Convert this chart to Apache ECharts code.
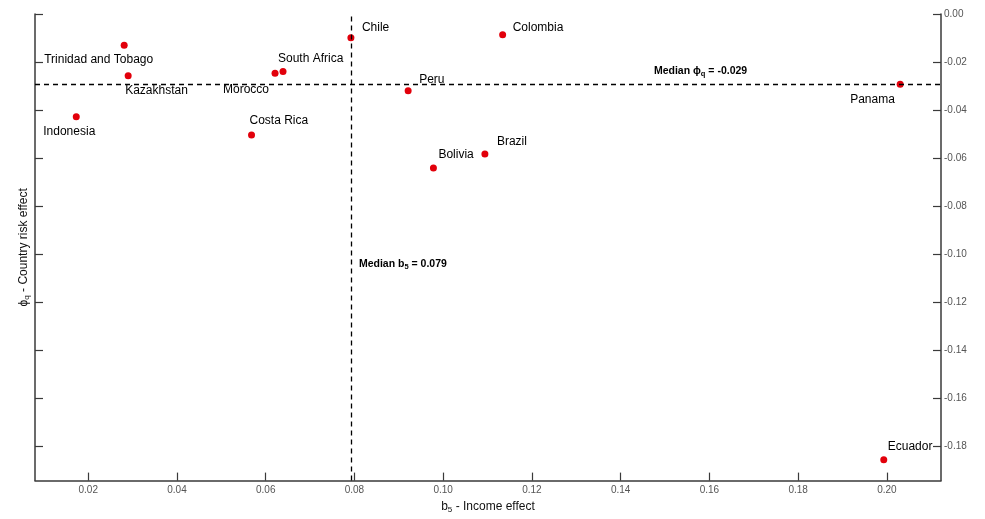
<!DOCTYPE html>
<html>
<head>
<meta charset="utf-8">
<script src="https://cdn.jsdelivr.net/npm/echarts@6.0.0/dist/echarts.min.js"></script>
<style>
  html, body { margin: 0; padding: 0; background: #fff; }
  #chart { width: 985px; height: 519px; }
</style>
</head>
<body>
<div id="chart"></div>
<script>
// values
const countries = ['Trinidad and Tobago', 'Kazakhstan', 'Indonesia', 'Morocco', 'South Africa', 'Chile',
  'Costa Rica', 'Peru', 'Bolivia', 'Brazil', 'Colombia', 'Panama', 'Ecuador'];
const b5 = [0.0281, 0.0290, 0.0173, 0.0621, 0.0639, 0.0792, 0.0568, 0.0921, 0.0978, 0.1094, 0.1134, 0.2030, 0.1993];
const phiQ = [-0.0130, -0.0257, -0.0428, -0.0247, -0.0240, -0.0099, -0.0504, -0.0320, -0.0642, -0.0584, -0.0087, -0.0293, -0.1858];
const medianB5 = 0.0792;
const medianPhiQ = -0.0292;
const xTicks = [0.02, 0.04, 0.06, 0.08, 0.10, 0.12, 0.14, 0.16, 0.18, 0.20];
const yTicks = [0, -0.02, -0.04, -0.06, -0.08, -0.10, -0.12, -0.14, -0.16, -0.18];

const xMin = 0.008, xMax = 0.2122;
const yMin = -0.1945, yMax = 0;

// where each country name sits relative to its dot (left edge, vertical middle)
const labelOffsets = {
  'Trinidad and Tobago': [-80, 15], 'Kazakhstan': [-3, 15], 'Indonesia': [-33, 15],
  'Morocco': [-52, 16], 'South Africa': [-5, -13], 'Chile': [11, -10], 'Costa Rica': [-2, -14],
  'Peru': [11, -11], 'Bolivia': [5, -13], 'Brazil': [12, -12], 'Colombia': [10, -7],
  'Panama': [-50, 15], 'Ecuador': [4, -13]
};

const font = 'Liberation Sans, Arial, sans-serif';
const axisColor = '#3a3a3a';
const subRich = {
  t: { fontFamily: font, fontSize: 12, color: '#111', lineHeight: 15 },
  s: { fontFamily: font, fontSize: 8, color: '#111', verticalAlign: 'bottom', lineHeight: 9 }
};
const boldRich = {
  t: { fontFamily: font, fontSize: 10.5, fontWeight: 'bold', color: '#000', lineHeight: 14 },
  s: { fontFamily: font, fontSize: 7.5, fontWeight: 'bold', color: '#000', verticalAlign: 'bottom', lineHeight: 8 }
};

const points = countries.map((name, i) => ({
  name: name,
  value: [b5[i], phiQ[i]],
  label: { offset: labelOffsets[name] }
}));

const chart = echarts.init(document.getElementById('chart'));
chart.setOption({
  animation: false,
  backgroundColor: '#fff',
  grid: { left: 35, right: 44, top: 14, bottom: 35 },
  xAxis: {
    type: 'value',
    min: xMin,
    max: xMax,
    name: '{t|b}{s|5}{t| - Income effect}',
    nameLocation: 'middle',
    nameGap: 16,
    nameTextStyle: { rich: subRich },
    splitLine: { show: false },
    axisLine: { onZero: false, lineStyle: { color: axisColor, width: 1.5 } },
    axisTick: { inside: true, length: 8, customValues: xTicks, lineStyle: { color: axisColor, width: 1.2 } },
    axisLabel: {
      customValues: xTicks, margin: 5, color: '#555', fontSize: 10, fontFamily: font,
      formatter: v => v.toFixed(2)
    }
  },
  yAxis: [{
    type: 'value',
    position: 'right',
    min: yMin,
    max: yMax,
    splitLine: { show: false },
    axisLine: { show: true, onZero: false, lineStyle: { color: axisColor, width: 1.5 } },
    axisTick: { inside: true, length: 8, customValues: yTicks, lineStyle: { color: axisColor, width: 1.2 } },
    axisLabel: {
      customValues: yTicks, margin: 3, color: '#555', fontSize: 10, fontFamily: font,
      formatter: v => v.toFixed(2)
    }
  }, {
    type: 'value',
    position: 'left',
    min: yMin,
    max: yMax,
    name: '{t|ϕ}{s|q}{t| - Country risk effect}',
    nameLocation: 'middle',
    nameGap: 4,
    nameTextStyle: { rich: subRich },
    splitLine: { show: false },
    axisLine: { show: true, onZero: false, lineStyle: { color: axisColor, width: 1.5 } },
    axisTick: { inside: true, length: 8, customValues: yTicks, lineStyle: { color: axisColor, width: 1.2 } },
    axisLabel: { show: false }
  }],
  series: [{
    type: 'scatter',
    yAxisIndex: 0,
    symbolSize: 7,
    itemStyle: { color: '#e2000b', opacity: 1 },
    label: {
      show: true,
      position: 'inside',
      align: 'left',
      verticalAlign: 'middle',
      formatter: p => p.name,
      fontFamily: font,
      fontSize: 12,
      color: '#000'
    },
    data: points,
    markLine: {
      silent: true,
      symbol: 'none',
      animation: false,
      lineStyle: { color: '#000', type: [5, 4], width: 1.3 },
      label: { show: false },
      data: [
        [{ coord: [medianB5, yMin] }, { coord: [medianB5, yMax] }],
        [{ coord: [xMin, medianPhiQ] }, { coord: [xMax, medianPhiQ] }]
      ]
    },
    markPoint: {
      silent: true,
      symbol: 'circle',
      symbolSize: 0,
      data: [{
        coord: [medianB5, -0.1043],
        label: {
          position: 'right', distance: 8,
          formatter: '{t|Median b}{s|5}{t| = ' + medianB5.toFixed(3) + '}',
          rich: boldRich
        }
      }, {
        coord: [0.158, medianPhiQ],
        label: {
          position: 'top', distance: 6,
          formatter: '{t|Median ϕ}{s|q}{t| = ' + medianPhiQ.toFixed(3) + '}',
          rich: boldRich
        }
      }]
    }
  }]
});
</script>
</body>
</html>
